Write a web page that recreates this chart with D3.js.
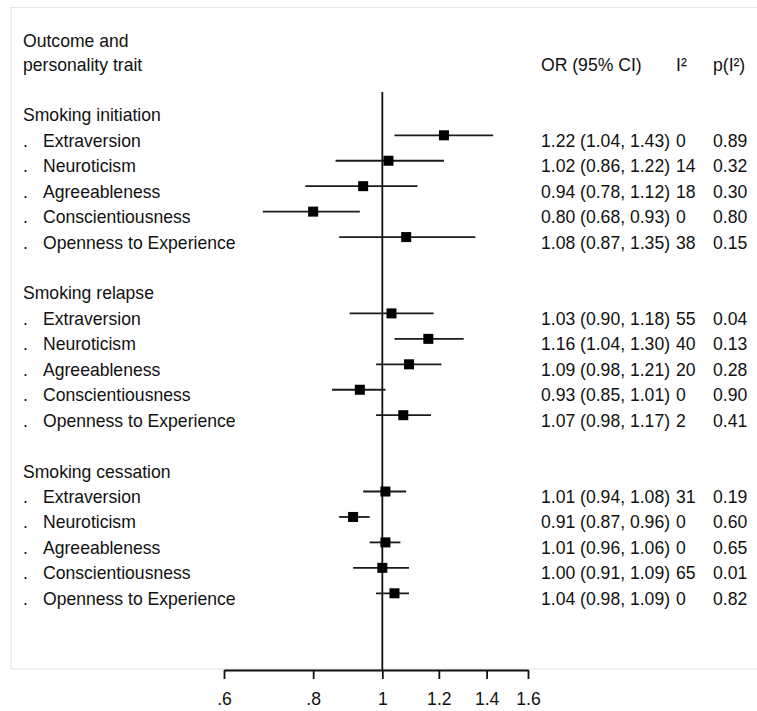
<!DOCTYPE html>
<html>
<head>
<meta charset="utf-8">
<script src="https://cdn.jsdelivr.net/npm/d3@7"></script>
<style>
  html, body { margin: 0; padding: 0; background: #fff; }
  svg text { font-family: "Liberation Sans", Arial, sans-serif; font-size: 17.6px; fill: #111; }
</style>
</head>
<body>
<svg id="chart" width="757" height="711"></svg>
<script>
// ---------- data ----------
const groups = ["Smoking initiation", "Smoking relapse", "Smoking cessation"];
const traits = ["Extraversion", "Neuroticism", "Agreeableness", "Conscientiousness", "Openness to Experience"];
const orValues = [
  [1.22, 1.02, 0.94, 0.80, 1.08],
  [1.03, 1.16, 1.09, 0.93, 1.07],
  [1.01, 0.91, 1.01, 1.00, 1.04]
];
const ciLow = [
  [1.04, 0.86, 0.78, 0.68, 0.87],
  [0.90, 1.04, 0.98, 0.85, 0.98],
  [0.94, 0.87, 0.96, 0.91, 0.98]
];
const ciHigh = [
  [1.43, 1.22, 1.12, 0.93, 1.35],
  [1.18, 1.30, 1.21, 1.01, 1.17],
  [1.08, 0.96, 1.06, 1.09, 1.09]
];
const i2Values = [
  [0, 14, 18, 0, 38],
  [55, 40, 20, 0, 2],
  [31, 0, 0, 65, 0]
];
const pI2Values = [
  ["0.89", "0.32", "0.30", "0.80", "0.15"],
  ["0.04", "0.13", "0.28", "0.90", "0.41"],
  ["0.19", "0.60", "0.65", "0.01", "0.82"]
];
const tickValues = [0.6, 0.8, 1, 1.2, 1.4, 1.6];
const tickLabels = [".6", ".8", "1", "1.2", "1.4", "1.6"];
const headerLeft = ["Outcome and", "personality trait"];
const headerRight = ["OR (95% CI)", "I\u00B2", "p(I\u00B2)"];

// ---------- layout ----------
const svg = d3.select("#chart");
const SY = 1.08;           // slight vertical stretch of glyphs as in reference
const BASE = 11.5;         // baseline offset from row centre
const x = d3.scaleLog().domain([0.6, 1.6]).range([224, 528]);
// row index: group header, 5 traits, blank, ...
const y = d3.scaleLinear().domain([1, 19]).range([135.3, 593.3]);
const colLabelDot = 23, colLabel = 43, colGroup = 23;
const colOR = 541, colI2 = 676, colP = 713;
const axisY = 670;

function txt(sx, sy, s, anchor) {
  return svg.append("text")
    .attr("transform", `translate(${sx},${sy}) scale(1,${SY})`)
    .attr("text-anchor", anchor || "start")
    .text(s);
}

// plot region border
svg.append("rect")
  .attr("x", 11).attr("y", 7.5)
  .attr("width", 770).attr("height", axisY - 1 - 7.5)
  .attr("fill", "none").attr("stroke", "#e6e6e6").attr("stroke-width", 1.2);

// headers
txt(colGroup, 46.7, headerLeft[0]);
txt(colGroup, 70.7, headerLeft[1]);
txt(colOR, 71, headerRight[0]);
txt(colI2, 71, headerRight[1]);
txt(colP, 71, headerRight[2]);

// null line
svg.append("line")
  .attr("x1", x(1)).attr("x2", x(1))
  .attr("y1", y(-0.7)).attr("y2", axisY)
  .attr("stroke", "#111").attr("stroke-width", 1.8);

const fmt = d3.format(".2f");
const rows = [];
groups.forEach((g, gi) => {
  const hIdx = gi * 7;
  txt(colGroup, y(hIdx) + BASE, g);
  traits.forEach((t, ti) => {
    rows.push({
      idx: hIdx + 1 + ti, trait: t,
      or: orValues[gi][ti], lo: ciLow[gi][ti], hi: ciHigh[gi][ti],
      i2: i2Values[gi][ti], p: pI2Values[gi][ti]
    });
  });
});

rows.forEach(r => {
  const cy = y(r.idx);
  txt(colLabelDot, cy + BASE, ".");
  txt(colLabel, cy + BASE, r.trait);
  txt(colOR, cy + BASE, `${fmt(r.or)} (${fmt(r.lo)}, ${fmt(r.hi)})`);
  txt(colI2, cy + BASE, String(r.i2));
  txt(colP, cy + BASE, r.p);
});

// CI lines
svg.append("g").selectAll("line").data(rows).join("line")
  .attr("x1", d => x(d.lo)).attr("x2", d => x(d.hi))
  .attr("y1", d => y(d.idx)).attr("y2", d => y(d.idx))
  .attr("stroke", "#1a1a1a").attr("stroke-width", 1.8);

// markers
const ms = 10;
svg.append("g").selectAll("rect").data(rows).join("rect")
  .attr("x", d => x(d.or) - ms / 2).attr("y", d => y(d.idx) - ms / 2)
  .attr("width", ms).attr("height", ms)
  .attr("fill", "#000");

// axis
const axis = d3.axisBottom(x)
  .tickValues(tickValues)
  .tickFormat((d, i) => tickLabels[i])
  .tickSize(9).tickSizeOuter(0);
const ag = svg.append("g").attr("transform", `translate(0,${axisY})`).call(axis);
ag.select(".domain").attr("stroke", "#111").attr("stroke-width", 1.8);
ag.selectAll(".tick line").attr("stroke", "#111").attr("stroke-width", 1.8);
ag.selectAll(".tick text").each(function () {
  const t = d3.select(this);
  t.attr("y", null).attr("dy", null)
   .attr("transform", `translate(0,35) scale(1,${SY})`)
   .attr("font-size", null).attr("font-family", null)
   .attr("fill", "#111");
});
ag.attr("font-size", null).attr("font-family", null);
</script>
</body>
</html>
